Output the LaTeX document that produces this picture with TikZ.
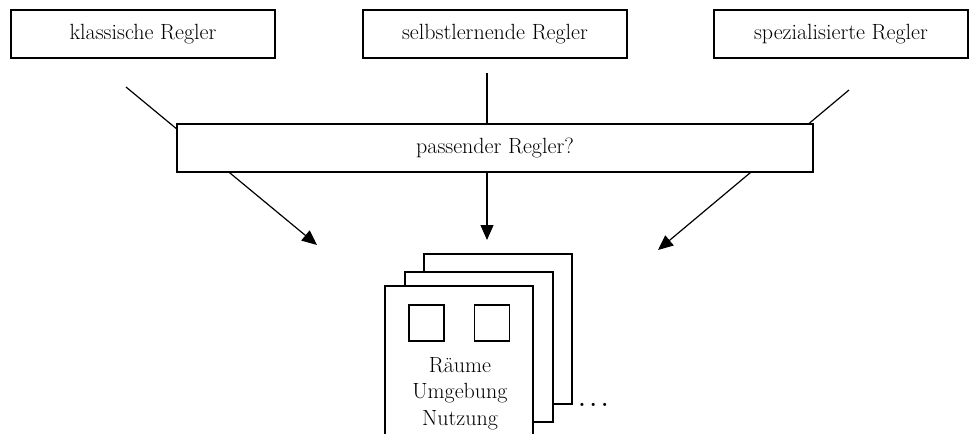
\documentclass[tikz,border=0pt]{standalone}
\usepackage{fontspec}
\usetikzlibrary{arrows.meta}
\begin{document}
\begin{tikzpicture}[x=1pt,y=-1pt,font=\fontsize{22}{26.5}\selectfont,line width=1.2pt,
  box/.style={draw,fill=white,minimum height=48pt,inner sep=0pt},
  page/.style={draw,fill=white,minimum width=148pt,inner sep=0pt},
  win/.style={draw,minimum width=35pt,minimum height=36pt,inner sep=0pt},
  conn/.style={-{Triangle[length=15pt,width=13pt]}}]
\useasboundingbox (0,0) rectangle (970,434);
\clip (0,0) rectangle (970,434);
\node[box,minimum width=264pt] (k) at (143,34) {klassische Regler};
\node[box,minimum width=264pt] (s) at (495,34) {selbstlernende Regler};
\node[box,minimum width=254pt] (p) at (841,34) {spezialisierte Regler};
\coordinate (ka) at (126,87);
\coordinate (kt) at (317,245);
\coordinate (sa) at (487,73);
\coordinate (st) at (487,240);
\coordinate (pa) at (849,90);
\coordinate (pt) at (658,250);
\draw[conn] (ka) -- (kt);
\draw[conn] (sa) -- (st);
\draw[conn] (pa) -- (pt);
\node[box,minimum width=636pt] (q) at (495,148) {passender Regler?};
\node[page,minimum height=150pt] (p3) at (498,329) {};
\node[page,minimum height=150pt] (p2) at (479,347) {};
\node[page,minimum height=164pt] (p1) at (459,368) {};
\node[win] (w1) at (426.5,323) {};
\node[win] (w2) at (492,323) {};
\node[align=center,inner sep=0pt,anchor=base] (t) at (460,425) {R\"aume\\Umgebung\\Nutzung};
\node[anchor=base west,inner sep=0pt,font=\fontsize{22}{26.5}\selectfont\bfseries] (d) at (578,406) {.\hspace{4.5pt}.\hspace{4.5pt}.};
\end{tikzpicture}
\end{document}
